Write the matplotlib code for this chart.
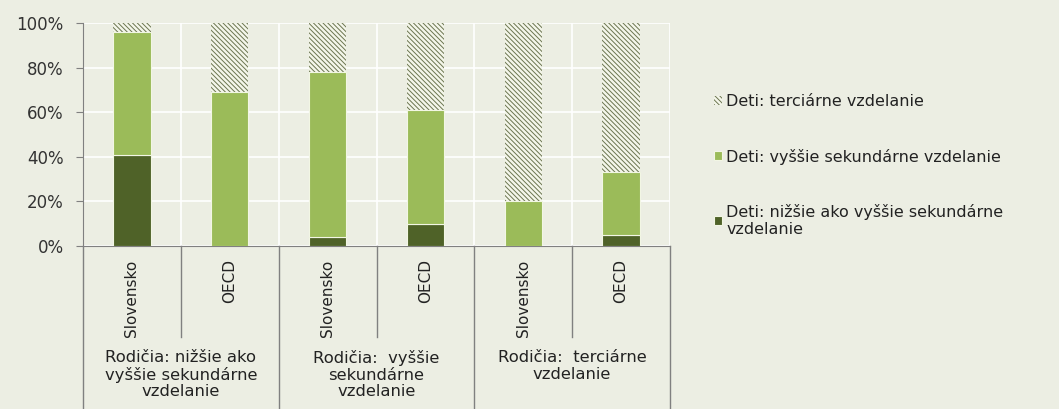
import matplotlib.pyplot as plt
import numpy as np

plt.rcParams['font.family'] = ['DejaVu Sans']
plt.rcParams['hatch.linewidth'] = 0.7

# data (percent)
countries = ['Slovensko', 'OECD', 'Slovensko', 'OECD', 'Slovensko', 'OECD']
groups = ['Rodičia: nižšie ako\nvyššie sekundárne\nvzdelanie',
          'Rodičia:  vyššie\nsekundárne\nvzdelanie',
          'Rodičia:  terciárne\nvzdelanie']
lower_sec = [41, 0, 4, 10, 0, 5]
upper_sec = [55, 69, 74, 51, 20, 28]
tertiary = [4, 31, 22, 39, 80, 67]

labels = ['Deti: nižšie ako vyššie sekundárne\nvzdelanie',
          'Deti: vyššie sekundárne vzdelanie',
          'Deti: terciárne vzdelanie']

bg = '#ECEEE3'
fig = plt.figure(figsize=(10.59, 4.09), dpi=100, facecolor=bg)
ax = fig.add_axes([83 / 1059, 1 - 246 / 409, (670 - 83) / 1059, (246 - 23) / 409])
ax.set_facecolor(bg)

x = np.arange(len(countries))
w = 0.38
lo = np.array(lower_sec)
up = np.array(upper_sec)
te = np.array(tertiary)
b1 = ax.bar(x, lo, w, color='#4F6228', edgecolor='#F2F6E4', linewidth=0.8, zorder=3)
b2 = ax.bar(x, up, w, bottom=lo, color='#9BBB59', edgecolor='#F2F6E4', linewidth=0.8, zorder=3)
b3 = ax.bar(x, te, w, bottom=lo + up, color='#F4F6EA', edgecolor='#6B7550',
            hatch='\\' * 7, linewidth=0, zorder=3)

ax.set_xlim(-0.5, len(countries) - 0.5)
ax.set_ylim(0, 100)
ax.set_yticks(np.arange(0, 101, 20))
ax.set_yticklabels([f'{v}%' for v in range(0, 101, 20)], fontsize=12, color='#333333')
ax.tick_params(axis='y', length=5, color='#808080', pad=9)
ax.set_xticks(np.arange(-0.5, len(countries), 1))
ax.set_xticklabels([])
ax.tick_params(axis='x', length=0)
ax.grid(True, color='white', linewidth=1.2, zorder=0)
for s in ['top', 'right']:
    ax.spines[s].set_visible(False)
for s in ['left', 'bottom']:
    ax.spines[s].set_color('#808080')

# category labels and separators below the axis
tr = ax.get_xaxis_transform()
for i, c in enumerate(countries):
    ax.text(i, -0.06, c, rotation=90, ha='center', va='top', transform=tr,
            fontsize=11, color='#222222')
for k in range(len(countries) + 1):
    xb = k - 0.5
    bottom = -0.41 if k % 2 == 1 else -0.75
    ax.plot([xb, xb], [0, bottom], transform=tr, color='#808080', lw=1, clip_on=False)
for g, lab in enumerate(groups):
    ax.text(2 * g + 0.5, -0.468, lab, ha='center', va='top', transform=tr,
            fontsize=11.8, color='#222222', linespacing=1.1)

handles = [b3, b2, b1]
leg = fig.legend(handles, labels[::-1], loc='upper left',
                 bbox_to_anchor=(708 / 1059, 1 - 88 / 409), frameon=False,
                 fontsize=11.5, handlelength=0.5, handleheight=0.5,
                 handletextpad=0.25, labelspacing=2.45, borderaxespad=0)
for t in leg.get_texts():
    t.set_color('#222222')

fig.savefig('out.png', dpi=100, facecolor=bg)
